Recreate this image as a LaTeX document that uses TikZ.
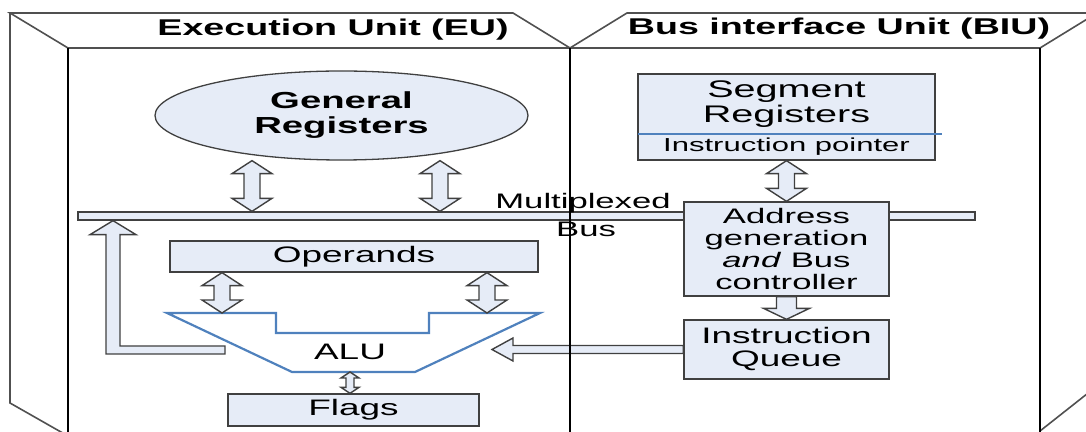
\documentclass[tikz,border=0pt]{standalone}
\usepackage{fontspec}
\setmainfont{Liberation Sans}[FakeStretch=1.65]
\usetikzlibrary{shapes,calc,positioning}

\definecolor{boxfill}{HTML}{E6ECF7}
\definecolor{boxline}{HTML}{404040}
\definecolor{alublue}{HTML}{4F81BD}
\definecolor{rimgray}{HTML}{505050}

\newdimen\pxu \pxu=0.5pt
% block arrows, sizes in px: shaft half width, head half width, head length
\newcommand{\udarrow}[5]{%
  \filldraw[fat] let \p1=(#1), \p2=(#2) in
    (\x1,\y1) -- ++(#4,#5) -- ++(#3-#4,0) -- (\x1+#3*\pxu,\y2+#5*\pxu) -- ++(#4-#3,0)
    -- (\x1,\y2) -- ++(-#4,-#5) -- ++(#4-#3,0) -- (\x1-#3*\pxu,\y1-#5*\pxu) -- ++(#3-#4,0) -- cycle;}
\newcommand{\dnarrow}[5]{%
  \filldraw[fat] let \p1=(#1), \p2=(#2) in
    (\x1-#3*\pxu,\y1) -- (\x1-#3*\pxu,\y2+#5*\pxu) -- ++(#3-#4,0) -- (\x1,\y2)
    -- ++(#4,-#5) -- ++(#3-#4,0) -- (\x1+#3*\pxu,\y1) -- cycle;}
\newcommand{\lfarrow}[5]{%
  \filldraw[fat] let \p1=(#1), \p2=(#2) in
    (\x1,\y1+#3*\pxu) -- (\x2+#5*\pxu,\y1+#3*\pxu) -- ++(0,#3-#4) -- (\x2,\y1)
    -- ++(#5,#4) -- ++(0,#3-#4) -- (\x1,\y1-#3*\pxu) -- cycle;}

\begin{document}
\begin{tikzpicture}
[x=0.5pt, y=-0.5pt, line width=0.65pt,
block/.style={rectangle, draw=boxline, fill=boxfill, inner sep=0pt, align=center, font=\fontsize{11.2}{11.5}\selectfont},
fat/.style={draw=boxline, fill=boxfill, line width=0.7pt, line join=miter},
unit/.style={font=\bfseries\fontsize{11.4}{13}\selectfont},
rim/.style={draw=rimgray, line width=0.8pt},
wall/.style={draw=black, line width=1.4pt}]

\useasboundingbox (0,0) rectangle (1086,432);

\coordinate (ga) at (252,0);
\coordinate (gb) at (440,0);
\coordinate (oa) at (222,0);
\coordinate (ob) at (487,0);
\coordinate (fl) at (350,0);
\coordinate (fbx) at (113,0);
\coordinate (fbend) at (225,350);
\coordinate (aluin) at (492,0);

\node[block, minimum width=448.5pt, minimum height=4pt] (bus) at (526.5,216) {};
\node[font=\fontsize{10.5}{11}\selectfont] (mux) at (583,203) {Multiplexed};
\node[font=\fontsize{10.5}{11}\selectfont] (muxbus) at (586,229) {Bus};

\node[ellipse, draw=boxline, fill=boxfill, minimum width=186.5pt, minimum height=44.5pt, inner sep=0pt, align=center,
  font=\bfseries\fontsize{11.6}{12.5}\selectfont] (genreg) at (341.5,115.5) {General\\Registers};

\node[block, minimum width=184pt, minimum height=15.5pt] (operands) at (354,256.5) {Operands};
\node[block, minimum width=125.5pt, minimum height=16pt] (flags) at (353.5,410) {Flags};

\coordinate (alu1) at (167,313);
\coordinate (alu2) at (540,313);
\coordinate (alubot) at (292,372);
\draw[alublue, line width=1.1pt] (alu1) -- (276,313) -- (276,333) -- (429,333) -- (429,313) -- (alu2)
  -- (415,372) -- (alubot) -- cycle;
\node[font=\fontsize{11.2}{11.5}\selectfont] (alu) at (350,352) {ALU};

\node[block, minimum width=148.5pt, minimum height=43pt] (segreg) at (786.5,117) {};
\node[align=center, font=\fontsize{12}{10.5}\selectfont] (segtxt) at (786.5,104) {Segment\\Registers};
\node[font=\fontsize{9.4}{10}\selectfont] (iptr) at (786.5,147) {Instruction pointer};
\draw[alublue, line width=1.1pt] ($(segreg.west)+(1,17)$) -- ++(304,0);

\node[block, minimum width=102.5pt, minimum height=47pt, font=\fontsize{10.5}{10.85}\selectfont] (addr) at (786.5,249)
  {Address\\generation\\\textit{and} Bus\\controller};
\node[block, minimum width=102.5pt, minimum height=29.5pt] (queue) at (786.5,349.5) {Instruction\\Queue};

\udarrow{genreg.south -| ga}{bus.north -| ga}{8}{20}{13}
\udarrow{genreg.south -| gb}{bus.north -| gb}{8}{20}{13}
\udarrow{operands.south -| oa}{alu1 -| oa}{8}{20}{13}
\udarrow{operands.south -| ob}{alu1 -| ob}{8}{20}{13}
\udarrow{alubot -| fl}{flags.north -| fl}{4}{9}{6}
\udarrow{segreg.south}{addr.north}{8}{20}{13}
\dnarrow{addr.south}{queue.north}{10}{23}{11}
\lfarrow{queue.west}{queue.west -| aluin}{4}{11.5}{21}

\filldraw[fat] let \p1=(fbend), \p2=(bus.south -| fbx) in
  (\x1,\y1+4*\pxu) -| (\x2+7*\pxu,\y2-14*\pxu) -- ++(16,0) -- (\x2,\y2) -- ++(-23,14) -- ++(16,0)
  |- (\x1,\y1-4*\pxu) -- cycle;

\node[unit] (eu) at (333,30) {Execution Unit (EU)};
\node[unit] (biu) at (839,29) {Bus interface Unit (BIU)};

\begin{scope}
\clip (0,0) rectangle (1086,432);
\draw[rim] (68,48) -- (10,13) -- (513,13) -- (570,48) -- (627,13) -- (1110,13);
\draw[rim] (1040,48) -- (1097,13);
\draw[rim] (10,13) -- (10,403) -- (68,436);
\draw[rim] (1040,431) -- (1097,386);
\draw[rim, line width=1pt] (68,48) -- (1040,48);
\draw[wall] (68,48) -- (68,440);
\draw[wall] (570,48) -- (570,440);
\draw[wall] (1040,48) -- (1040,440);
\end{scope}
\end{tikzpicture}
\end{document}
